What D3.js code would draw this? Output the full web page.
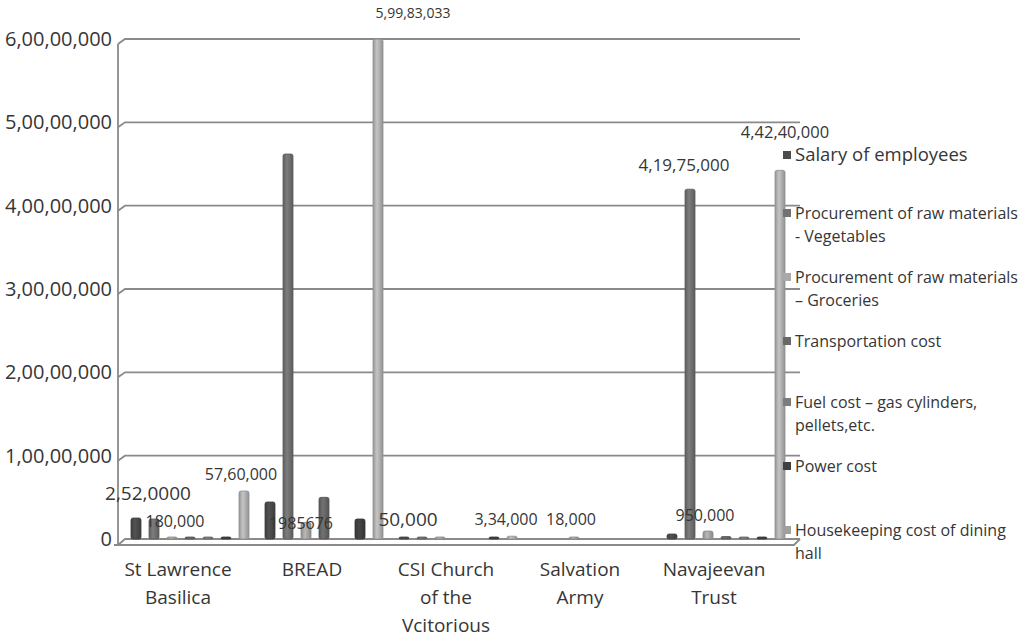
<!DOCTYPE html>
<html>
<head>
<meta charset="utf-8">
<script src="https://cdn.jsdelivr.net/npm/d3@7"></script>
<style>
  body { margin: 0; background: #fff; }
  text { font-family: "Open Sans", sans-serif; fill: #363636; }
</style>
</head>
<body>
<div id="chart"></div>
<script>
// Categories (organisations) and their wrapped label lines
const categories = ["St Lawrence Basilica", "BREAD", "CSI Church of the Vcitorious", "Salvation Army", "Navajeevan Trust"];
const categoryLines = [["St Lawrence", "Basilica"], ["BREAD"], ["CSI Church", "of the", "Vcitorious"], ["Salvation", "Army"], ["Navajeevan", "Trust"]];

// Series names and legend lines
const seriesNames = ["Salary of employees", "Procurement of raw materials - Vegetables", "Procurement of raw materials – Groceries",
  "Transportation cost", "Fuel cost – gas cylinders, pellets,etc.", "Power cost", "Housekeeping cost of dining hall"];
const legendLines = [["Salary of employees"], ["Procurement of raw materials", "- Vegetables"], ["Procurement of raw materials", "– Groceries"],
  ["Transportation cost"], ["Fuel cost – gas cylinders,", "pellets,etc."], ["Power cost"], ["Housekeeping cost of dining", "hall"]];

// Values per series, one per category
const salary       = [2520000, 4440000, 50000, 0, 600000];
const vegetables   = [2400000, 46200000, 150000, 0, 41975000];
const groceries    = [180000, 1985676, 100000, 18000, 950000];
const transport    = [120000, 5000000, 0, 0, 300000];
const fuel         = [60000, 0, 0, 0, 200000];
const power        = [30000, 2400000, 60000, 0, 150000];
const housekeeping = [5760000, 59983033, 334000, 0, 44240000];

// Data labels as printed on the chart ("" = no label)
const salaryLabels       = ["2,52,0000", "", "50,000", "", ""];
const vegetableLabels    = ["", "", "", "", "4,19,75,000"];
const groceryLabels      = ["180,000", "1985676", "", "18,000", "950,000"];
const housekeepingLabels = ["57,60,000", "5,99,83,033", "3,34,000", "", "4,42,40,000"];

const yTicks = [0, 10000000, 20000000, 30000000, 40000000, 50000000, 60000000];
const yTickLabels = ["0", "1,00,00,000", "2,00,00,000", "3,00,00,000", "4,00,00,000", "5,00,00,000", "6,00,00,000"];

const seriesValues = [salary, vegetables, groceries, transport, fuel, power, housekeeping];
const seriesLabels = [salaryLabels, vegetableLabels, groceryLabels, null, null, null, housekeepingLabels];
const seriesColors = ["#4b4b4b", "#727272", "#a9a9a9", "#686868", "#7c7c7c", "#404040", "#b4b4b4"];

// label placement tweaks (dx from bar centre, gap above bar top, font size)
const labelLayout = {
  "0-0": [12, 18, 19], "2-0": [3, 11, 16], "6-0": [-3, 11, 16],
  "2-1": [-5, -7, 16], "6-1": [35, 21, 14],
  "0-2": [4, 13, 19], "6-2": [-6, 11, 16],
  "2-3": [-3, 14, 16],
  "1-4": [-6, 18, 17], "2-4": [-3, 10, 16], "6-4": [5, 32, 16.5]
};

const width = 1025, height = 639;
const svg = d3.select("#chart").append("svg")
  .attr("width", width).attr("height", height);

const x0 = d3.scaleBand().domain(categories).range([123, 793]);
const x1 = d3.scaleBand().domain(d3.range(seriesNames.length)).range([4, 130]);
const y = d3.scaleLinear().domain([0, 60000000]).range([539, 39]);
const barW = 10;
const axisX = 118, rightX = 800;

// gradients for cylinder-ish bars
const defs = svg.append("defs");
seriesColors.forEach((c, i) => {
  const g = defs.append("linearGradient").attr("id", "grad" + i);
  const base = d3.color(c);
  g.append("stop").attr("offset", "0%").attr("stop-color", base.darker(0.5));
  g.append("stop").attr("offset", "40%").attr("stop-color", base.brighter(0.25));
  g.append("stop").attr("offset", "100%").attr("stop-color", base.darker(0.6));
});

// gridlines with a small perspective kink at the wall
const grid = svg.append("g");
yTicks.slice(1).forEach(t => {
  grid.append("path")
    .attr("d", `M${axisX},${y(t) + 5}L${axisX + 7},${y(t)}L${rightX},${y(t)}`)
    .attr("fill", "none").attr("stroke", "#8a8a8a").attr("stroke-width", 1.8);
});
// floor
grid.append("path")
  .attr("d", `M${axisX},${y(0) + 6}L${axisX + 7},${y(0)}L${rightX},${y(0)}`)
  .attr("fill", "none").attr("stroke", "#8a8a8a").attr("stroke-width", 1.8);
grid.append("path")
  .attr("d", `M${axisX - 4},${y(0) + 6}L${rightX - 6},${y(0) + 6}L${rightX},${y(0)}`)
  .attr("fill", "none").attr("stroke", "#8a8a8a").attr("stroke-width", 1.8);
// vertical axis
grid.append("line")
  .attr("x1", axisX).attr("x2", axisX)
  .attr("y1", y(60000000) + 5).attr("y2", y(0) + 6)
  .attr("stroke", "#8a8a8a").attr("stroke-width", 1.8);

// y tick labels
svg.append("g").selectAll("text")
  .data(yTicks)
  .join("text")
  .attr("x", axisX - 6)
  .attr("y", d => y(d) + 7)
  .attr("text-anchor", "end")
  .style("font-size", "20px")
  .text((d, i) => yTickLabels[i]);

// bars
const barData = [];
seriesValues.forEach((vals, s) => {
  vals.forEach((v, c) => barData.push({s, c, v}));
});
const barX = d => x0(categories[d.c]) + x1(d.s) + (x1.bandwidth() - barW) / 2;

svg.append("g").selectAll("rect")
  .data(barData.filter(d => d.v > 0))
  .join("rect")
  .attr("x", barX)
  .attr("width", barW)
  .attr("y", d => Math.min(y(d.v), y(0) - 2))
  .attr("height", d => Math.max(2, y(0) - y(d.v)))
  .attr("rx", 2)
  .attr("fill", d => `url(#grad${d.s})`)
  .attr("stroke", d => d3.color(seriesColors[d.s]).darker(0.6))
  .attr("stroke-width", 0.8);

// data labels
const labelData = [];
seriesLabels.forEach((labs, s) => {
  if (!labs) return;
  labs.forEach((t, c) => { if (t) labelData.push({s, c, t, v: seriesValues[s][c]}); });
});
const lay = d => labelLayout[d.s + "-" + d.c] || [0, 12, 16];
svg.append("g").selectAll("text")
  .data(labelData)
  .join("text")
  .attr("x", d => barX(d) + barW / 2 + lay(d)[0])
  .attr("y", d => y(d.v) - lay(d)[1])
  .attr("text-anchor", "middle")
  .style("font-size", d => lay(d)[2] + "px")
  .text(d => d.t);

// category labels
const catG = svg.append("g");
categories.forEach((cat, i) => {
  const t = catG.append("text")
    .attr("text-anchor", "middle")
    .style("font-size", "19px");
  categoryLines[i].forEach((line, j) => {
    t.append("tspan")
      .attr("x", x0(cat) + x0.bandwidth() / 2 - 12)
      .attr("y", 576 + j * 28)
      .text(line);
  });
});

// legend
const legend = svg.append("g").attr("transform", "translate(783,0)");
const legendY = [155, 213, 277, 341, 402, 466, 530];
legendLines.forEach((lines, i) => {
  const row = legend.append("g").attr("transform", `translate(0,${legendY[i]})`);
  row.append("rect")
    .attr("x", 0).attr("y", -4)
    .attr("width", 8).attr("height", 8)
    .attr("fill", seriesColors[i] === "#b4b4b4" ? "#a0a0a0" : seriesColors[i]);
  const t = row.append("text")
    .style("font-size", i === 0 ? "18.5px" : "16px");
  lines.forEach((line, j) => {
    t.append("tspan")
      .attr("x", 12)
      .attr("y", 6 + j * 23)
      .text(line);
  });
});
</script>
</body>
</html>
